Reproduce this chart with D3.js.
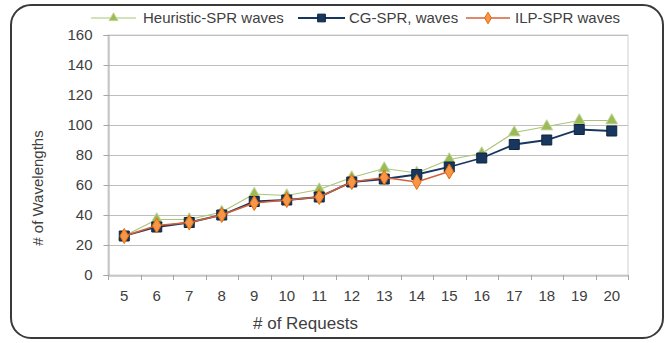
<!DOCTYPE html>
<html>
<head>
<meta charset="utf-8">
<script src="https://cdn.jsdelivr.net/npm/d3@7/dist/d3.min.js"></script>
<style>
  html, body { margin: 0; padding: 0; background: #fff; }
  svg { display: block; }
  text { font-family: "Liberation Sans", Arial, sans-serif; fill: #404040; }
</style>
</head>
<body>
<svg id="chart" width="667" height="343"></svg>
<script>
// Number of requests on the x axis
const requests = [5, 6, 7, 8, 9, 10, 11, 12, 13, 14, 15, 16, 17, 18, 19, 20];

// Wavelengths used by each method
const heuristicWaves = [26, 37, 37, 42, 54, 53, 57, 65, 71, 68, 77, 81, 95, 99, 103, 103];
const cgWaves        = [26, 32, 35, 40, 49, 50, 52, 62, 64, 67, 72, 78, 87, 90, 97, 96];
const ilpWaves       = [26, 33, 35, 40, 48, 50, 52, 62, 65, 62, 69];

const yTicks = [0, 20, 40, 60, 80, 100, 120, 140, 160];

const seriesNames = ["Heuristic-SPR waves", "CG-SPR, waves", "ILP-SPR waves"];

const series = [
  { name: seriesNames[0], values: heuristicWaves, line: "#A9C574", width: 1.2, marker: "triangle", fill: "#9BBB59", stroke: "#C3D69B", size: 60 },
  { name: seriesNames[1], values: cgWaves,        line: "#17375E", width: 1.8, marker: "square",   fill: "#17375E", stroke: "#0F243E", size: 100 },
  { name: seriesNames[2], values: ilpWaves,       line: "#D4603A", width: 1.6, marker: "diamond",  fill: "#F79646", stroke: "#E46C0A", size: 65 }
];

const svg = d3.select("#chart");

// Rounded outer frame
svg.append("rect")
  .attr("x", 11).attr("y", 5).attr("width", 652).attr("height", 333)
  .attr("rx", 20).attr("ry", 20)
  .attr("fill", "#fff").attr("stroke", "#3a3a3a").attr("stroke-width", 2);

const plot = { left: 108, right: 628, top: 35, bottom: 275 };

const x = d3.scaleBand().domain(requests).range([plot.left, plot.right]).padding(0);
const y = d3.scaleLinear().domain([0, 160]).range([plot.bottom, plot.top]);

// Plot area border
svg.append("rect")
  .attr("x", plot.left).attr("y", plot.top)
  .attr("width", plot.right - plot.left).attr("height", plot.bottom - plot.top)
  .attr("fill", "none").attr("stroke", "#D0D0D0").attr("stroke-width", 1);

// Horizontal gridlines
svg.append("g")
  .selectAll("line")
  .data(yTicks.filter(d => d > 0))
  .join("line")
  .attr("x1", plot.left).attr("x2", plot.right)
  .attr("y1", d => Math.round(y(d)) + 0.5).attr("y2", d => Math.round(y(d)) + 0.5)
  .attr("stroke", "#BEBEBE").attr("stroke-width", 1);

// Y axis
const yAxis = svg.append("g")
  .attr("transform", `translate(${plot.left + 0.5},0)`)
  .call(d3.axisLeft(y).tickValues(yTicks).tickSize(5).tickPadding(11));
yAxis.select(".domain").attr("stroke", "#A6A6A6");
yAxis.selectAll(".tick line").attr("stroke", "#A6A6A6");
yAxis.selectAll(".tick text")
  .style("font-family", "'Liberation Sans', Arial, sans-serif")
  .style("font-size", "15px").attr("fill", "#404040");

// X axis: category labels centred in bands, ticks on band boundaries
const xAxis = svg.append("g")
  .attr("transform", `translate(0,${plot.bottom + 0.5})`)
  .call(d3.axisBottom(x).tickSize(0).tickPadding(15));
xAxis.select(".domain").attr("stroke", "#A6A6A6");
xAxis.selectAll(".tick text")
  .style("font-family", "'Liberation Sans', Arial, sans-serif")
  .style("font-size", "15px").attr("fill", "#404040");

svg.append("g")
  .selectAll("line")
  .data(requests.map(d => x(d)).concat([plot.right]))
  .join("line")
  .attr("x1", d => Math.round(d) + 0.5).attr("x2", d => Math.round(d) + 0.5)
  .attr("y1", plot.bottom).attr("y2", plot.bottom + 5)
  .attr("stroke", "#A6A6A6");

// Axis titles
svg.append("text")
  .attr("transform", "translate(43,188) rotate(-90)")
  .attr("text-anchor", "middle")
  .style("font-size", "15px")
  .text("# of Wavelengths");

svg.append("text")
  .attr("x", 253).attr("y", 329)
  .attr("text-anchor", "start")
  .style("font-size", "17px")
  .text("# of Requests");

const symbolType = { triangle: d3.symbolTriangle, square: d3.symbolSquare, diamond: d3.symbolDiamond };

const cx = i => x(requests[i]) + x.bandwidth() / 2;

const line = d3.line()
  .x((d, i) => cx(i))
  .y(d => y(d));

// Series lines and markers
series.forEach(s => {
  const g = svg.append("g");
  g.append("path")
    .datum(s.values)
    .attr("d", line)
    .attr("fill", "none")
    .attr("stroke", s.line)
    .attr("stroke-width", s.width);
  g.selectAll("path.marker")
    .data(s.values)
    .join("path")
    .attr("class", "marker")
    .attr("transform", (d, i) => `translate(${cx(i)},${y(d)})`)
    .attr("d", d3.symbol().type(symbolType[s.marker]).size(s.size))
    .attr("fill", s.fill)
    .attr("stroke", s.stroke)
    .attr("stroke-width", 1);
});

// Legend
const legendItems = [
  { s: series[0], x0: 91,  x1: 136, tx: 143 },
  { s: series[1], x0: 298, x1: 345, tx: 349 },
  { s: series[2], x0: 466, x1: 510, tx: 515 }
];
const ly = 18;
const legend = svg.append("g");
legendItems.forEach(it => {
  legend.append("line")
    .attr("x1", it.x0).attr("x2", it.x1).attr("y1", ly).attr("y2", ly)
    .attr("stroke", it.s.line).attr("stroke-width", it.s.width);
  legend.append("path")
    .attr("transform", `translate(${(it.x0 + it.x1) / 2},${ly})`)
    .attr("d", d3.symbol().type(symbolType[it.s.marker]).size(it.s.size * 0.6))
    .attr("fill", it.s.fill).attr("stroke", it.s.stroke);
  legend.append("text")
    .attr("x", it.tx).attr("y", ly + 5)
    .style("font-size", "15px")
    .text(it.s.name);
});
</script>
</body>
</html>
